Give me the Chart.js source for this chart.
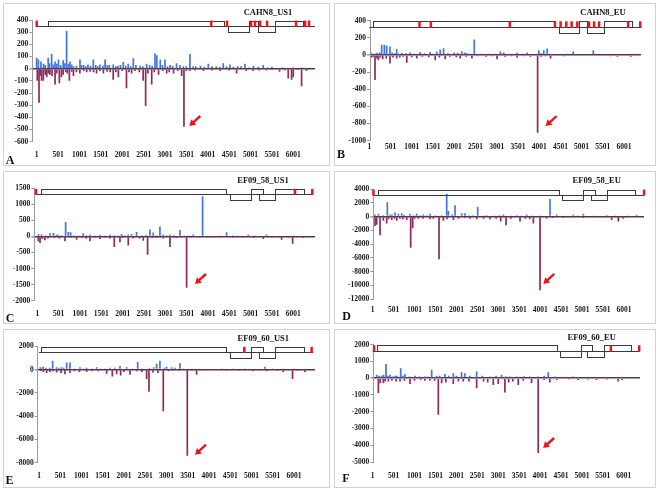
<!DOCTYPE html>
<html>
<head>
<meta charset="utf-8">
<script src="https://cdn.jsdelivr.net/npm/chart.js@4.4.1/dist/chart.umd.min.js"></script>
<style>
  body { margin:0; width:659px; height:490px; background:#fff; position:relative; overflow:hidden; font-family:'Liberation Serif','Times New Roman',serif; }
  .frame { position:absolute; border:1px solid #d2d2d2; box-sizing:border-box; pointer-events:none; }
  canvas { position:absolute; }
  .ttl, .let { position:absolute; font-weight:bold; color:#111; white-space:nowrap; line-height:1; transform:translate(-50%,-50%); }
  .ttl { font-size:8.5px; }
  .let { font-size:12px; }
</style>
</head>
<body>
<script>
// genome positions shown on the x axis
const TICKS_X = [1,501,1001,1501,2001,2501,3001,3501,4001,4501,5001,5501,6001];

// --- A: CAHN8_US1 ---
const caUs1Up = [[0,90],[40,75],[100,60],[160,40],[270,90],[350,120],[430,60],[510,75],[620,70],[700,310],[780,60],[860,20],[1013,75],[1100,30],[1200,35],[1325,75],[1480,35],[1600,75],[1700,30],[1790,35],[1900,25],[2025,55],[2140,40],[2260,85],[2420,25],[2570,40],[2766,125],[2810,110],[2890,75],[3000,75],[3120,30],[3270,45],[3430,20],[3584,120],[3660,20],[3830,25],[4013,40],[4200,20],[4363,45],[4520,35],[4700,20],[4870,40],[5070,25],[5298,30],[5500,15],[5750,10],[6000,10],[6200,10],[6400,8],
  [200,30],[300,45],[390,35],[470,40],[560,30],[660,45],[740,40],[820,35],[930,25],[1050,30],[1150,20],[1260,25],[1380,30],[1430,20],[1550,25],[1650,30],[1850,20],[1960,30],[2080,25],[2200,20],[2320,30],[2480,20],[2640,30],[2700,25],[2940,30],[3060,20],[3180,25],[3350,30],[3500,20],[3720,20],[3920,15],[4100,20],[4280,15],[4440,20],[4600,15],[4780,20],[4960,10],[5180,15],[5400,10]];
const caUs1Dn = [[15,-100],[55,-280],[115,-100],[155,-100],[235,-70],[310,-50],[430,-130],[530,-120],[620,-50],[765,-100],[860,-60],[1010,-40],[1170,-30],[1400,-40],[1560,-40],[1790,-90],[1910,-70],[2100,-160],[2220,-40],[2490,-100],[2548,-307],[2690,-130],[2850,-50],[3040,-40],[3200,-40],[3390,-60],[3444,-477],[3580,-20],[3900,-20],[4290,-20],[4675,-40],[5060,-20],[5370,-15],[5680,-25],[5882,-80],[5960,-90],[6000,-70],[6194,-145],[6310,-20],
  [80,-60],[200,-50],[270,-40],[360,-60],[470,-40],[580,-70],[680,-30],[720,-40],[820,-25],[930,-30],[1100,-20],[1250,-25],[1330,-30],[1480,-20],[1650,-25],[1720,-30],[1850,-30],[2000,-20],[2160,-30],[2300,-20],[2400,-30],[2600,-40],[2750,-30],[2950,-20],[3100,-30],[3300,-20],[3500,-20],[3700,-15],[4100,-15],[4500,-15],[4900,-20],[5200,-15],[5500,-10],[5800,-15],[6100,-10]];
const caUs1Span = [-15,6508];
const caUs1Orfs = [[258,4380,1],[4474,4965,-1],[4965,5176,1],[5176,5572,-1],[5572,6227,1]];
const caUs1Marks = [0,4080,4450,5011,5105,5222,5386,6064,6275,6368];
const caUs1Arrow = [3569,-471];

// --- B: CAHN8_EU ---
const caEuUp = [[55,20],[175,25],[292,120],[355,120],[410,110],[488,100],[646,70],[765,25],[960,30],[1197,35],[1433,35],[1590,40],[1670,65],[1750,80],[2000,30],[2180,45],[2300,20],[2473,182],[2615,15],[3088,40],[3167,30],[3482,25],[3718,30],[3993,55],[4110,55],[4190,75],[4663,15],[4805,40],[5277,55],[5608,10],[6159,10],
  [120,15],[240,30],[540,30],[600,20],[700,15],[860,20],[1050,15],[1300,20],[1520,15],[1850,20],[2080,25],[2250,30],[2380,15],[2550,10],[2800,15],[2950,15],[3300,10],[3600,15],[3850,10],[4050,20],[4300,10],[4500,10],[4950,10],[5400,10],[5800,10]];
const caEuDn = [[55,-30],[135,-292],[214,-60],[316,-50],[488,-100],[646,-40],[883,-90],[1119,-40],[1552,-60],[1788,-50],[2143,-40],[2418,-40],[3009,-50],[3482,-30],[3797,-20],[3965,-907],[4270,-40],[4584,-15],[5057,-10],[5687,-15],[5845,-20],[6159,-20],
  [95,-20],[180,-40],[260,-30],[400,-40],[560,-30],[720,-30],[800,-20],[1000,-25],[1250,-20],[1400,-25],[1650,-30],[1900,-20],[2050,-25],[2280,-20],[2550,-15],[2750,-20],[2900,-15],[3200,-20],[3350,-15],[3650,-15],[4050,-20],[4150,-15],[4400,-10],[4800,-10],[5300,-10],[5500,-10],[6000,-10],[6300,-10]];
const caEuSpan = [1,6411];
const caEuOrfs = [[80,4364,1],[4466,4939,-1],[4939,5135,1],[5135,5530,-1],[5530,6199,1]];
const caEuMarks = [1182,1450,3309,4372,4505,4639,4765,4899,5175,5293,5411,6096,6380];
const caEuArrow = [4152,-829];

// --- C: EF09_58_US1 ---
const ef58UsUp = [[30,80],[100,70],[300,100],[380,110],[490,50],[665,450],[727,140],[782,130],[1078,100],[1235,60],[1470,50],[1705,60],[1978,80],[2133,60],[2211,80],[2328,140],[2640,220],[2718,120],[2875,310],[2953,60],[3110,60],[3344,200],[3657,60],[3875,1250],[4437,130],[4593,40],[4945,60],[5374,60],[5800,20],[6200,20],
  [200,40],[450,60],[560,40],[860,40],[950,30],[1150,40],[1350,30],[1580,30],[1800,40],[1880,30],[2050,40],[2450,40],[2550,50],[2800,40],[3030,40],[3200,40],[3450,30],[3550,30],[3750,20],[4100,20],[4300,30],[4700,30],[5100,30],[5550,20],[6000,15]];
const ef58UsDn = [[25,-150],[65,-200],[180,-120],[650,-150],[923,-100],[1235,-150],[1470,-80],[1805,-330],[1938,-180],[2133,-280],[2485,-130],[2586,-567],[3110,-330],[3266,-50],[3500,-1596],[3813,-30],[4594,-30],[5063,-50],[5297,-80],[5726,-100],[5985,-230],[6235,-50],
  [120,-80],[250,-60],[400,-50],[520,-60],[800,-40],[1050,-50],[1150,-70],[1350,-40],[1600,-40],[1700,-60],[2000,-50],[2250,-60],[2400,-60],[2700,-50],[2800,-40],[2950,-60],[3200,-40],[3380,-30],[3600,-20],[4000,-20],[4300,-20],[4800,-30],[5500,-40],[5880,-40],[6100,-30]];
const ef58UsSpan = [-30,6467];
const ef58UsOrfs = [[79,4421,1],[4515,5000,-1],[5000,5296,1],[5187,5577,-1],[5577,6249,1]];
const ef58UsMarks = [-30,6038,6444];
const ef58UsArrow = [3697,-1480];

// --- D: EF09_58_EU ---
const ef58EuUp = [[57,300],[136,400],[350,2060],[414,300],[534,600],[614,400],[693,500],[892,400],[1051,400],[1210,300],[1370,400],[1768,3320],[1808,800],[1967,1630],[2126,500],[2206,500],[2508,1440],[2723,200],[3121,300],[3440,200],[3678,300],[4235,2550],[4394,300],[4792,300],[5032,400],[5589,200],[6305,250],
  [250,200],[460,300],[750,250],[980,200],[1130,200],[1290,200],[1500,200],[1650,200],[1900,300],[2300,200],[2400,200],[2620,150],[2900,150],[3020,200],[3300,150],[3560,150],[3800,150],[4000,150],[4600,150],[4900,100],[5300,100],[5800,100],[6100,100]];
const ef58EuDn = [[57,-1370],[96,-1200],[176,-2700],[256,-600],[335,-1000],[455,-500],[574,-600],[813,-500],[908,-4510],[956,-1700],[1092,-300],[1370,-400],[1585,-6200],[1689,-600],[1928,-500],[2326,-300],[2485,-400],[2803,-400],[3058,-700],[3185,-1270],[3519,-700],[3838,-1000],[3997,-10700],[4156,-300],[4554,-200],[5032,-200],[5708,-500],[5867,-700],[5987,-300],
  [380,-400],[520,-300],[650,-300],[720,-400],[1000,-300],[1200,-300],[1450,-300],[1780,-400],[2050,-300],[2200,-200],[2650,-300],[2950,-300],[3300,-300],[3650,-300],[3750,-400],[4300,-200],[4700,-150],[5300,-150],[5500,-150],[6100,-150]];
const ef58EuSpan = [17,6480];
const ef58EuOrfs = [[136,4443,1],[4530,5016,-1],[5016,5310,1],[5207,5589,-1],[5589,6266,1]];
const ef58EuMarks = [17,6480];
const ef58EuArrow = [4074,-9770];

// --- E: EF09_60_US1 ---
const ef60UsUp = [[30,200],[100,250],[220,100],[322,750],[416,200],[533,200],[652,600],[730,600],[965,200],[1122,150],[1357,200],[1670,150],[1906,300],[2063,200],[2322,650],[2768,500],[2846,750],[3003,250],[3121,200],[3317,550],[3787,100],[4571,100],[4846,100],[5316,250],[5747,50],
  [60,150],[160,150],[260,150],[470,150],[580,150],[850,100],[1050,100],[1250,100],[1450,100],[1550,100],[1780,150],[2200,100],[2420,100],[2600,150],[2700,200],[2950,150],[3200,150],[3400,100],[3600,100],[4000,80],[4300,60],[5000,80],[5500,60],[6000,50]];
const ef60UsDn = [[100,-200],[180,-300],[416,-250],[612,-400],[730,-300],[1122,-200],[1592,-350],[1726,-600],[1828,-400],[1922,-500],[2142,-450],[2533,-800],[2588,-1900],[2925,-3590],[3160,-100],[3490,-7400],[3709,-450],[4414,-100],[5041,-150],[5355,-150],[5747,-200],[5967,-810],[6257,-200],
  [40,-150],[260,-200],[330,-150],[520,-300],[830,-150],[950,-200],[1250,-150],[1400,-150],[2000,-200],[2300,-150],[2420,-200],[2680,-250],[2800,-300],[3050,-150],[3300,-100],[3600,-100],[3900,-80],[4200,-60],[4700,-80],[5200,-80],[5600,-100],[6100,-100]];
const ef60UsSpan = [1,6453];
const ef60UsOrfs = [[40,4400,1],[4493,4979,-1],[4979,5277,1],[5167,5559,-1],[5559,6234,1]];
const ef60UsMarks = [4830,6414];
const ef60UsArrow = [3672,-7315];

// --- F: EF09_60_EU ---
const ef60EuUp = [[96,200],[216,150],[319,850],[415,200],[534,150],[670,600],[773,250],[1012,150],[1250,100],[1410,500],[1529,150],[1728,250],[1927,300],[2126,350],[2206,300],[2485,400],[2803,100],[3082,200],[3280,100],[3758,100],[4196,350],[4355,100],[4792,100],[5270,50],
  [150,150],[260,200],[360,150],[480,100],[580,150],[720,150],[880,100],[1120,100],[1320,100],[1600,150],[1820,150],[2000,150],[2320,150],[2620,150],[2950,150],[3180,100],[3450,100],[3620,120],[3950,100],[4100,150],[4550,80],[4950,60],[5600,50],[6000,50]];
const ef60EuDn = [[136,-880],[256,-300],[375,-200],[654,-200],[893,-350],[1370,-150],[1569,-2180],[1649,-300],[1927,-350],[2166,-200],[2485,-600],[2883,-400],[3002,-350],[3161,-850],[3480,-400],[3798,-300],[3957,-4460],[4236,-250],[4912,-100],[5350,-100],[5867,-200],
  [180,-300],[300,-200],[460,-150],[560,-200],[760,-150],[1000,-150],[1150,-100],[1250,-150],[1480,-150],[1750,-250],[2050,-200],[2300,-200],[2650,-200],[2750,-250],[3250,-250],[3350,-200],[3600,-150],[4100,-100],[4400,-100],[4700,-80],[5150,-80],[5600,-80],[5960,-100]];
const ef60EuSpan = [1,6385];
const ef60EuOrfs = [[96,4395,1],[4475,4968,-1],[4968,5246,1],[5135,5533,-1],[5533,6186,1]];
const ef60EuMarks = [33,5692,6369];
const ef60EuArrow = [4074,-4165];

const BLUE = '#4274e2', MAROON = '#8c2b5c', RED = '#e8161c';

// layout of each panel on the page (frame box, plot area, label places)
const panels = [
  { id:'A', title:'CAHN8_US1', up:caUs1Up, dn:caUs1Dn, span:caUs1Span, orfs:caUs1Orfs, marks:caUs1Marks, arrow:caUs1Arrow,
    y:[-600,400,100], x:[-102,6508], box:[3,3,327,163], plot:[32.3,20,315,141.7], xPad:8.8, ttl:[268,12.3], let:[10,160] },
  { id:'B', title:'CAHN8_EU', up:caEuUp, dn:caEuDn, span:caEuSpan, orfs:caEuOrfs, marks:caEuMarks, arrow:caEuArrow,
    y:[-1000,400,200], x:[17,6400], box:[334,3,322,163], plot:[370,20.7,641,140.7], xPad:1.5, ttl:[603,12.3], let:[341,154] },
  { id:'C', title:'EF09_58_US1', up:ef58UsUp, dn:ef58UsDn, span:ef58UsSpan, orfs:ef58UsOrfs, marks:ef58UsMarks, arrow:ef58UsArrow,
    y:[-2000,1500,500], x:[-69,6509], box:[3,171,327,153], plot:[34.3,188.3,315,300.7], xPad:9.1, ttl:[263,180], let:[10,317.5] },
  { id:'D', title:'EF09_58_EU', up:ef58EuUp, dn:ef58EuDn, span:ef58EuSpan, orfs:ef58EuOrfs, marks:ef58EuMarks, arrow:ef58EuArrow,
    y:[-12000,4000,2000], x:[15,6480], box:[334,171,322,153], plot:[373.3,189,644,299.3], xPad:6.2, ttl:[596.7,180], let:[346.7,315.8] },
  { id:'E', title:'EF09_60_US1', up:ef60UsUp, dn:ef60UsDn, span:ef60UsSpan, orfs:ef60UsOrfs, marks:ef60UsMarks, arrow:ef60UsArrow,
    y:[-8000,2000,1000], x:[-30,6495], box:[3,329,327,159], plot:[37.7,346.3,315,462.7], xPad:9.1, ttl:[263.3,338], let:[9.5,479.7] },
  { id:'F', title:'EF09_60_EU', up:ef60EuUp, dn:ef60EuDn, span:ef60EuSpan, orfs:ef60EuOrfs, marks:ef60EuMarks, arrow:ef60EuArrow,
    y:[-5000,2000,1000], x:[15,6390], box:[334,329,322,159], plot:[373.3,344.7,640,462], xPad:9.8, ttl:[591.7,337], let:[345.8,478] }
];

// genome map (ORF boxes + red marks) and the red arrow, placed through the chart scales
const genomePlugin = {
  id: 'genome',
  afterDatasetsDraw(chart, args, o) {
    const xs = chart.scales.x, ys = chart.scales.y, ctx = chart.ctx;
    const rng = ys.max - ys.min;
    const top = ys.getPixelForValue(ys.max - 0.005 * rng);
    const base = ys.getPixelForValue(ys.max - 0.05 * rng);
    const bot = ys.getPixelForValue(ys.max - 0.102 * rng);
    const px = v => xs.getPixelForValue(v);
    ctx.save();
    ctx.strokeStyle = '#3a3a3a';
    ctx.lineWidth = 1;
    ctx.beginPath();
    ctx.moveTo(px(o.span[0]), Math.round(base) + 0.5);
    ctx.lineTo(px(o.span[1]), Math.round(base) + 0.5);
    ctx.stroke();
    o.orfs.forEach(([a, b, f]) => {
      const x0 = Math.round(px(a)) + 0.5, x1 = Math.round(px(b)) + 0.5;
      const y0 = Math.round(f > 0 ? top : base) + 0.5, y1 = Math.round(f > 0 ? base : bot) + 0.5;
      ctx.strokeRect(x0, y0, x1 - x0, y1 - y0);
    });
    ctx.fillStyle = RED;
    o.marks.forEach(m => {
      ctx.fillRect(px(m) - 1.2, top, 2.5, base - top + 1);
    });
    // arrow
    const tx = px(o.arrow[0]), ty = ys.getPixelForValue(o.arrow[1]);
    const sx = tx + 11, sy = ty - 10;
    const ang = Math.atan2(ty - sy, tx - sx);
    ctx.strokeStyle = RED;
    ctx.lineWidth = 2.4;
    ctx.beginPath();
    ctx.moveTo(sx, sy);
    ctx.lineTo(tx - 3 * Math.cos(ang), ty - 3 * Math.sin(ang));
    ctx.stroke();
    ctx.beginPath();
    ctx.moveTo(tx, ty);
    ctx.lineTo(tx - 7 * Math.cos(ang - 0.55), ty - 7 * Math.sin(ang - 0.55));
    ctx.lineTo(tx - 7 * Math.cos(ang + 0.55), ty - 7 * Math.sin(ang + 0.55));
    ctx.closePath();
    ctx.fill();
    ctx.restore();
  }
};

const tickFont = { family: "'Liberation Serif', 'Times New Roman', serif", size: 7.5, weight: 'bold' };

panels.forEach(p => {
  const [bx, by, bw, bh] = p.box;
  const [L, T, R, B] = p.plot;
  const cv = document.createElement('canvas');
  cv.width = bw; cv.height = bh;
  cv.style.left = bx + 'px'; cv.style.top = by + 'px';
  cv.style.width = bw + 'px'; cv.style.height = bh + 'px';
  document.body.appendChild(cv);
  const fr = document.createElement('div');
  fr.className = 'frame';
  fr.style.cssText = `left:${bx}px;top:${by}px;width:${bw}px;height:${bh}px`;
  document.body.appendChild(fr);
  const t = document.createElement('div');
  t.className = 'ttl'; t.textContent = p.title;
  t.style.left = p.ttl[0] + 'px'; t.style.top = p.ttl[1] + 'px';
  document.body.appendChild(t);
  const l = document.createElement('div');
  l.className = 'let'; l.textContent = p.id;
  l.style.left = p.let[0] + 'px'; l.style.top = p.let[1] + 'px';
  document.body.appendChild(l);

  const bar = { barThickness: 1.7, grouped: false, inflateAmount: 0, borderWidth: 0 };
  new Chart(cv.getContext('2d'), {
    type: 'bar',
    data: {
      datasets: [
        { ...bar, data: p.up.map(([x, y]) => ({ x, y })), backgroundColor: BLUE },
        { ...bar, data: p.dn.map(([x, y]) => ({ x, y })), backgroundColor: MAROON }
      ]
    },
    options: {
      responsive: false, animation: false, devicePixelRatio: 1,
      layout: { padding: { left: 0, top: T - by, right: bx + bw - R, bottom: 0 } },
      plugins: { legend: { display: false }, tooltip: { enabled: false },
        genome: { span: p.span, orfs: p.orfs, marks: p.marks, arrow: p.arrow } },
      scales: {
        x: {
          type: 'linear', min: p.x[0], max: p.x[1], offset: false,
          grid: { display: false, drawTicks: false }, border: { display: false },
          afterBuildTicks: s => { s.ticks = TICKS_X.map(v => ({ value: v })); },
          afterFit: s => { s.height = by + bh - B; },
          ticks: { autoSkip: false, maxRotation: 0, minRotation: 0, padding: p.xPad, color: '#151515', font: tickFont, callback: v => String(v) }
        },
        y: {
          min: p.y[0], max: p.y[1],
          grid: { drawTicks: true, tickLength: 3, tickColor: '#9a9a9a',
            lineWidth: c => (c.tick && c.tick.value === 0) ? 1.5 : 1,
            color: c => (c.tick && c.tick.value === 0) ? '#5a3550' : 'rgba(0,0,0,0)' },
          border: { display: true, color: '#9a9a9a' },
          afterFit: s => { s.width = L - bx; },
          ticks: { stepSize: p.y[2], padding: 1, color: '#151515', font: tickFont, callback: v => String(v) }
        }
      }
    },
    plugins: [genomePlugin]
  });
});
</script>
</body>
</html>
